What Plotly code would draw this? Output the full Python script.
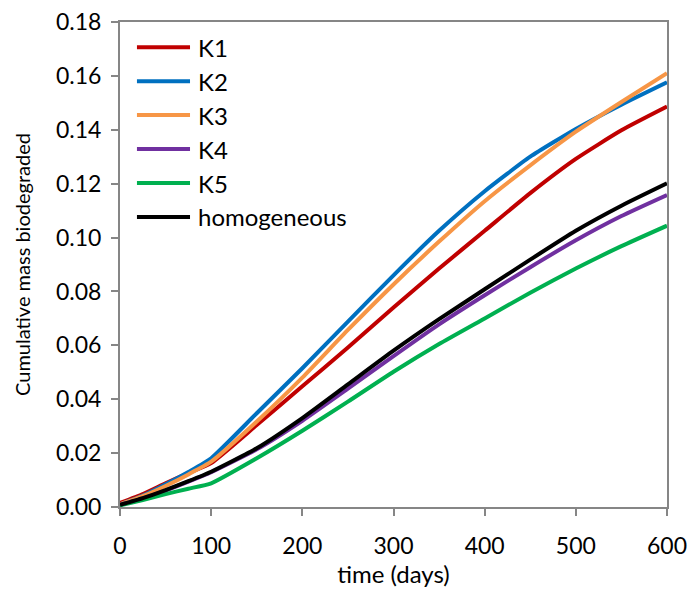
import plotly.graph_objects as go

# Sample times (days) and cumulative mass biodegraded for each case
days = [0, 25, 50, 75, 100, 150, 200, 250, 300, 350, 400, 450, 500, 550, 600]

k1 = [0.0015, 0.0048, 0.0088, 0.0126, 0.0163, 0.0304, 0.0448, 0.0592, 0.0740, 0.0885, 0.1025, 0.1165, 0.1292, 0.1398, 0.1486]
k2 = [0.0010, 0.0042, 0.0084, 0.0130, 0.0181, 0.0348, 0.0515, 0.0688, 0.0860, 0.1025, 0.1172, 0.1300, 0.1403, 0.1493, 0.1576]
k3 = [0.0010, 0.0040, 0.0078, 0.0121, 0.0168, 0.0317, 0.0480, 0.0657, 0.0826, 0.0985, 0.1135, 0.1268, 0.1393, 0.1503, 0.1610]
k4 = [0.0008, 0.0032, 0.0061, 0.0094, 0.0129, 0.0214, 0.0320, 0.0439, 0.0560, 0.0678, 0.0786, 0.0890, 0.0990, 0.1080, 0.1158]
k5 = [0.0006, 0.0026, 0.0048, 0.0068, 0.0088, 0.0181, 0.0283, 0.0391, 0.0502, 0.0605, 0.0700, 0.0795, 0.0885, 0.0968, 0.1044]
homog = [0.0008, 0.0033, 0.0063, 0.0096, 0.0131, 0.0218, 0.0330, 0.0455, 0.0580, 0.0697, 0.0808, 0.0918, 0.1025, 0.1118, 0.1201]

names = ["K1", "K2", "K3", "K4", "K5", "homogeneous"]
series = [k1, k2, k3, k4, k5, homog]
colors = ["#C00000", "#0070C0", "#F79646", "#7030A0", "#00B050", "#000000"]

x_ticks = [0, 100, 200, 300, 400, 500, 600]
y_ticks = [0.00, 0.02, 0.04, 0.06, 0.08, 0.10, 0.12, 0.14, 0.16, 0.18]

FONT = "Lato"
AXIS_GRAY = "#868686"

fig = go.Figure()
# series order as listed: later series are drawn on top
for nm, ys, col in zip(names, series, colors):
    fig.add_trace(go.Scatter(
        x=days, y=ys, name=nm, mode="lines",
        line=dict(color=col, width=4, shape="spline", smoothing=0.5),
        showlegend=False,
    ))

# legend drawn inside the plot area, top-left
leg_top = 0.948
leg_step = 0.070
for j, (nm, col) in enumerate(zip(names, colors)):
    yy = leg_top - j * leg_step
    fig.add_shape(type="line", xref="paper", yref="paper",
                  x0=0.031, x1=0.128, y0=yy, y1=yy,
                  line=dict(color=col, width=4))
    fig.add_annotation(xref="paper", yref="paper", x=0.139, y=yy,
                       text=nm, showarrow=False, xanchor="left", yanchor="middle",
                       font=dict(family=FONT, size=24, color="#000000"))

axis_common = dict(
    showline=True, linecolor=AXIS_GRAY, linewidth=2, mirror=True,
    ticks="outside", ticklen=7, tickwidth=2, tickcolor=AXIS_GRAY,
    showgrid=False, zeroline=False, automargin=False,
    tickfont=dict(family=FONT, size=23, color="#000000"),
)

fig.update_xaxes(range=[0, 600], tickvals=x_ticks, ticktext=[str(v) for v in x_ticks],
                 ticklabelstandoff=10,
                 title=dict(text="time (days)", font=dict(family=FONT, size=24, color="#000000"), standoff=2),
                 **axis_common)
fig.update_yaxes(range=[0, 0.18], tickvals=y_ticks, ticktext=[f"{v:.2f}" for v in y_ticks],
                 ticklabelstandoff=5,
                 title=dict(text="Cumulative mass biodegraded", font=dict(family=FONT, size=20, color="#000000"), standoff=20),
                 **axis_common)

fig.update_layout(
    width=690, height=591,
    margin=dict(l=120, r=23, t=22, b=84),
    plot_bgcolor="#FFFFFF", paper_bgcolor="#FFFFFF",
    font=dict(family=FONT, size=20, color="#000000"),
)

fig.write_html("out.html")
